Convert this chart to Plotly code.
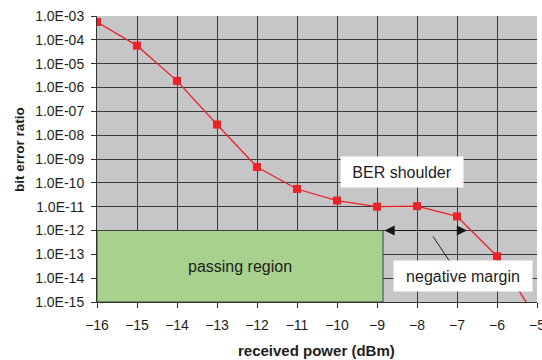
import plotly.graph_objects as go

# received optical power (dBm) and measured bit error ratio
power_dbm = [-16, -15, -14, -13, -12, -11, -10, -9, -8, -7, -6, -5]
ber = [5.6e-4, 5.7e-5, 1.9e-6, 2.8e-8, 4.6e-10, 5.5e-11, 1.8e-11,
       1.0e-11, 1.05e-11, 3.9e-12, 8.3e-14, 1.9e-16]

# y tick decades and their labels
decades = list(range(-15, -2))
decade_labels = ["1.0E-%02d" % (-d) for d in decades]

# passing region limits
pass_x = [-16, -8.85]
pass_ber = [1e-15, 1e-12]

FONT = "Liberation Sans, Arial, sans-serif"
TXT = "#1e1e1e"
GRID = "#3a3a3a"

fig = go.Figure()

fig.add_trace(go.Scatter(
    x=power_dbm, y=ber, mode="lines+markers",
    line=dict(color="#ee2226", width=1.3),
    marker=dict(symbol="square", size=8, color="#ee2226"),
    cliponaxis=True, showlegend=False,
))

# passing region box
fig.add_shape(type="rect", x0=pass_x[0], x1=pass_x[1], y0=pass_ber[0], y1=pass_ber[1],
              xref="x", yref="y", fillcolor="#a8d18d",
              line=dict(color="#404040", width=1), layer="above")

# leader line from the margin label to the arrow
fig.add_shape(type="line", x0=-7.6, y0=10 ** -12.25, x1=-7.17, y1=10 ** -13.33,
              xref="x", yref="y", line=dict(color="#202020", width=1), layer="above")

# double-headed margin arrow at the 1E-12 limit
fig.add_annotation(x=-6.75, y=-12, ax=pass_x[1], ay=-12, axref="x", ayref="y",
                   xref="x", yref="y", text="", showarrow=True,
                   arrowside="end+start", arrowhead=2, arrowsize=1.7,
                   arrowwidth=1.2, arrowcolor="#151515")

fig.add_annotation(x=-12.43, y=-13.5, xref="x", yref="y", text="passing region",
                   showarrow=False, font=dict(family=FONT, size=16, color=TXT))

fig.add_annotation(x=-8.38, y=-9.53, xref="x", yref="y", text="BER shoulder",
                   showarrow=False, bgcolor="white", width=118, height=26, borderpad=2,
                   font=dict(family=FONT, size=16, color=TXT))

fig.add_annotation(x=-6.85, y=-13.92, xref="x", yref="y", text="negative margin",
                   showarrow=False, bgcolor="white", width=134, height=26, borderpad=2,
                   font=dict(family=FONT, size=16, color=TXT))

# axis titles
fig.add_annotation(x=-78 / 440, y=(302 - 150) / 286, xref="paper", yref="paper",
                   xanchor="center", yanchor="middle",
                   text="<b>bit error ratio</b>", textangle=-90, showarrow=False,
                   font=dict(family=FONT, size=13.5, color=TXT))
fig.add_annotation(x=219 / 440, y=-48 / 286, xref="paper", yref="paper",
                   xanchor="center", yanchor="middle",
                   text="<b>received power (dBm)</b>", showarrow=False,
                   font=dict(family=FONT, size=15, color=TXT))

fig.update_xaxes(range=[-16, -5], dtick=1, tick0=-16, showgrid=True, gridcolor=GRID,
                 gridwidth=1, zeroline=False, showline=True, linecolor="#333333",
                 linewidth=1, ticks="outside", ticklen=5, tickcolor="#333333",
                 ticklabelstandoff=5, ticklabeloverflow="allow", automargin=False,
                 tickfont=dict(family=FONT, size=14, color=TXT))
fig.update_yaxes(type="log", range=[-15, -3], tickvals=[10 ** d for d in decades],
                 ticktext=decade_labels, showgrid=True, gridcolor=GRID, gridwidth=1,
                 zeroline=False, showline=True, linecolor="#333333", linewidth=1,
                 ticks="outside", ticklen=5, tickcolor="#333333", ticklabelstandoff=4,
                 automargin=False,
                 tickfont=dict(family=FONT, size=14, color=TXT))

fig.update_layout(width=542, height=360, margin=dict(l=97, r=5, t=16, b=58),
                  plot_bgcolor="#c6c6c8", paper_bgcolor="white", showlegend=False)

fig.write_html("out.html")
